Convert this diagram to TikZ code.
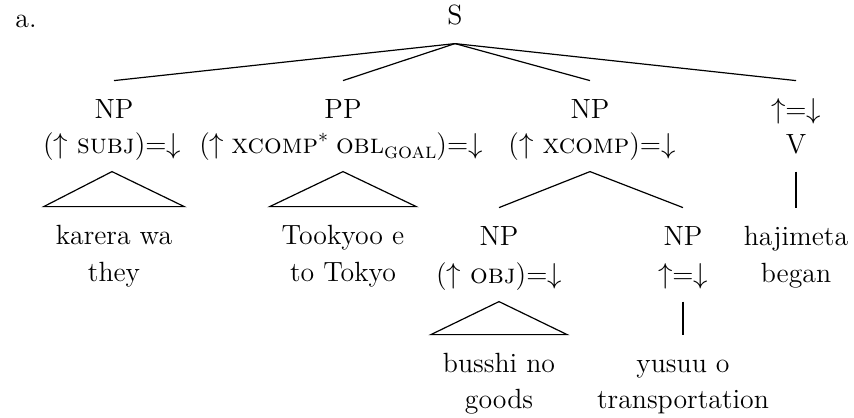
\documentclass[tikz,border=0pt]{standalone}
\begin{document}
\begin{tikzpicture}[x=0.5pt,y=-0.5pt,
  font=\fontsize{13.9pt}{16pt}\selectfont,
  cat/.style={anchor=base,inner sep=0pt,text height=9.4pt,text depth=0pt,outer xsep=0pt,outer ysep=9.3pt},
  edge/.style={line width=0.6pt},
  tri/.style={line width=0.6pt}]
\useasboundingbox (0,0) rectangle (854,417);
\node[anchor=base west,inner sep=0pt] (lbl) at (15,28) {a.};
\node[cat] (S) at (455,25) {S};
% first level
\node[cat] (NPa) at (114,118) {NP};
\node[cat] (NPaF) at (112,153) {($\uparrow$ \textsc{subj})=$\downarrow$};
\node[cat] (PP) at (343,118) {PP};
\node[cat] (PPF) at (341,153) {($\uparrow$\hspace{0.25em}\textsc{xcomp}$^{*}$\hspace{0.25em}\textsc{obl}\raisebox{-0.5ex}{\fontsize{11pt}{12pt}\selectfont\textsc{goal}})=$\downarrow$};
\node[cat] (NPb) at (590,118) {NP};
\node[cat] (NPbF) at (592,153) {($\uparrow$ \textsc{xcomp})=$\downarrow$};
\node[cat] (VF) at (796,118) {$\uparrow$=$\downarrow$};
\node[cat] (V) at (796,153) {V};
% leaves / second level
\node[cat] (karera) at (114,244) {karera wa};
\node[cat] (they) at (114,281) {they};
\node[cat] (tokyo) at (343,244) {Tookyoo e};
\node[cat] (totokyo) at (343,281) {to Tokyo};
\node[cat] (NPc) at (499,245) {NP};
\node[cat] (NPcF) at (499,283) {($\uparrow$ \textsc{obj})=$\downarrow$};
\node[cat] (NPd) at (683,245) {NP};
\node[cat] (NPdF) at (683,283) {$\uparrow$=$\downarrow$};
\node[cat] (hajimeta) at (796,245) {hajimeta};
\node[cat] (began) at (796,282) {began};
\node[cat] (busshi) at (499,372) {busshi no};
\node[cat] (goods) at (499,408) {goods};
\node[cat] (yusuu) at (683,372) {yusuu o};
\node[cat] (transp) at (683,408) {transportation};
% connectors
\draw[edge] (S.south) -- (NPa.north);
\draw[edge] (S.south) -- (PP.north);
\draw[edge] (S.south) -- (NPb.north);
\draw[edge] (S.south) -- (VF.north);
\draw[tri] (NPaF.south) -- ([xshift=-6pt]karera.north west) -- ([xshift=6pt]karera.north east) -- cycle;
\draw[tri] (PP.south |- PPF.south) -- ([xshift=-6pt]tokyo.north west) -- ([xshift=6pt]tokyo.north east) -- cycle;
\draw[edge] (NPb.south |- NPbF.south) -- (NPc.north);
\draw[edge] (NPb.south |- NPbF.south) -- (NPd.north);
\draw[edge] (V.south) -- (hajimeta.north);
\draw[tri] (NPcF.south) -- ([xshift=-6pt]busshi.north west) -- ([xshift=6pt]busshi.north east) -- cycle;
\draw[edge] (NPdF.south) -- (yusuu.north);
\end{tikzpicture}
\end{document}
